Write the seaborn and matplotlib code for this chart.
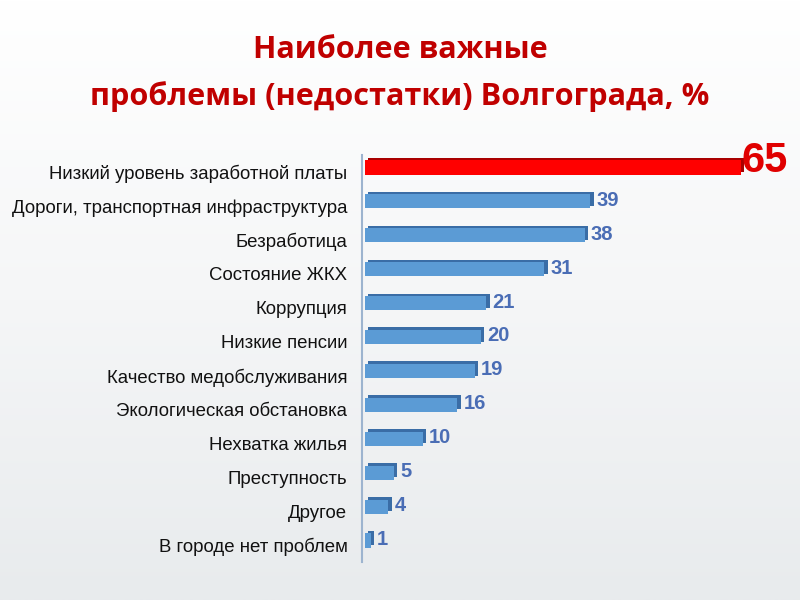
import numpy as np
import pandas as pd
import seaborn as sns
import matplotlib.pyplot as plt
import matplotlib.transforms as mtransforms
from matplotlib.colors import LinearSegmentedColormap

# data
problems = [
    'Низкий уровень заработной платы',
    'Дороги, транспортная инфраструктура',
    'Безработица',
    'Состояние ЖКХ',
    'Коррупция',
    'Низкие пенсии',
    'Качество медобслуживания',
    'Экологическая обстановка',
    'Нехватка жилья',
    'Преступность',
    'Другое',
    'В городе нет проблем',
]
percent = [65, 39, 38, 31, 21, 20, 19, 16, 10, 5, 4, 1]

df = pd.DataFrame({'problem': problems, 'percent': percent})
top = df['percent'].max()
front_colors = ['#FF0000' if v == top else '#5B9BD5' for v in df['percent']]
side_colors = ['#A80000' if v == top else '#3A6DA6' for v in df['percent']]

sns.set_style('white')
plt.rcParams['font.family'] = ['Liberation Sans', 'DejaVu Sans']

fig = plt.figure(figsize=(8, 6), dpi=100)

# soft grey gradient background
bg = fig.add_axes([0, 0, 1, 1], zorder=-10)
grad = np.linspace(0, 1, 256).reshape(-1, 1)
bg.imshow(grad, aspect='auto', extent=[0, 1, 0, 1], origin='upper',
          cmap=LinearSegmentedColormap.from_list('bg', ['#FFFFFF', '#F5F6F7', '#E8EBED']))
bg.axis('off')

ax = fig.add_axes([362 / 800, 1 - 562 / 600, 428 / 800, 407 / 600])
ax.patch.set_alpha(0)

px = 1 / fig.dpi
front_shift = mtransforms.ScaledTranslation(0, 4.5 * px, fig.dpi_scale_trans)
side_shift = mtransforms.ScaledTranslation(3.5 * px, 7 * px, fig.dpi_scale_trans)

# depth face: same bars drawn darker and nudged up/right
sns.barplot(data=df, x='percent', y='problem', hue='problem', palette=side_colors,
            legend=False, width=0.42, ax=ax, saturation=1)
for p in ax.patches:
    p.set_transform(ax.transData + side_shift)
    p.set_linewidth(0)
n_side = len(ax.patches)
sns.barplot(data=df, x='percent', y='problem', hue='problem', palette=front_colors,
            legend=False, width=0.42, ax=ax, saturation=1)
for p in ax.patches[n_side:]:
    p.set_transform(ax.transData + front_shift)
    p.set_linewidth(0)

for i, v in enumerate(df['percent']):
    if v == top:
        ax.annotate(str(v), (v, i), xytext=(0.5, 8), textcoords='offset points',
                    va='center', ha='left', color='#E00000', fontsize=30, fontweight='bold')
    else:
        ax.annotate(str(v), (v, i), xytext=(4.5, 4), textcoords='offset points',
                    va='center', ha='left', color='#4A6DB5', fontsize=14.5, fontweight='bold')

ax.set_xlim(-0.5, 73.5)
ax.set_ylim(len(problems) - 0.5, -0.5)
ax.set_xticks([])
ax.set_xlabel('')
ax.set_ylabel('')
ax.tick_params(axis='y', which='major', length=0, labelsize=13.4, pad=10.5, labelcolor='#111111')
ax.set_yticks(np.arange(-0.5, len(problems)), minor=True)
ax.tick_params(axis='y', which='minor', length=5, color='#9DB4CF', width=1.2)
for s in ['top', 'right', 'bottom']:
    ax.spines[s].set_visible(False)
ax.spines['left'].set_color('#9DB4CF')
ax.spines['left'].set_linewidth(1.5)

title_font = ['Open Sans', 'DejaVu Sans']
fig.text(0.5, 1 - 50 / 600, 'Наиболее важные', ha='center', va='center',
         fontsize=22.1, fontweight='bold', color='#C00000', family=title_font)
fig.text(0.5, 1 - 97 / 600, 'проблемы (недостатки) Волгограда, %', ha='center', va='center',
         fontsize=22.1, fontweight='bold', color='#C00000', family=title_font)

fig.savefig('out.png', dpi=100)
